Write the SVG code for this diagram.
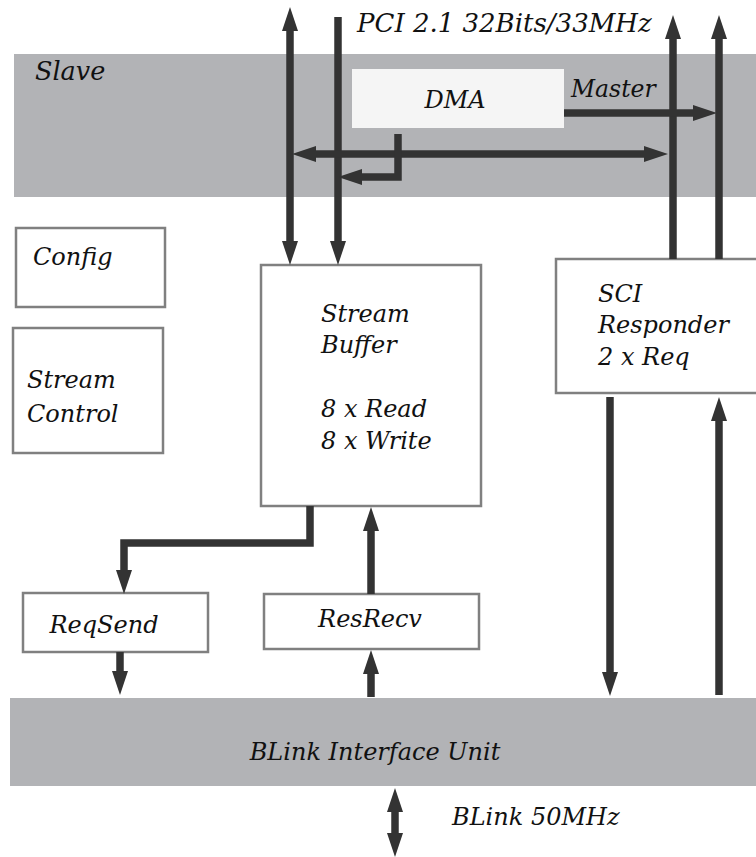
<svg xmlns="http://www.w3.org/2000/svg" width="756" height="857" viewBox="0 0 756 857">
<style>
.band{fill:#b2b3b6}
.box{fill:#ffffff;stroke:#808080;stroke-width:2.5}
.t{font-family:"DejaVu Serif","Liberation Serif",serif;font-style:italic;font-size:24px;fill:#111}
.c{fill:none;stroke:#333;stroke-width:7.5}
</style>
<defs>
<marker id="ah" markerUnits="userSpaceOnUse" markerWidth="24" markerHeight="16" refX="12" refY="8" orient="auto-start-reverse">
<path d="M0,0 L24,8 L0,16 z" fill="#333"/>
</marker>
</defs>
<rect width="756" height="857" fill="#fff"/>
<g id="pci-band">
<rect class="band" x="14" y="54" width="742" height="143"/>
<text class="t" x="35" y="80" style="font-size:25.5px">Slave</text>
<text class="t" x="571" y="97" style="font-size:23.5px">Master</text>
</g>
<g id="dma">
<rect x="352" y="69" width="212" height="59" fill="#f5f5f5"/>
<text class="t" x="455" y="108" text-anchor="middle">DMA</text>
</g>
<g id="config">
<rect class="box" x="16" y="228" width="149" height="79"/>
<text class="t" x="33" y="265">Config</text>
</g>
<g id="stream-control">
<rect class="box" x="13" y="328" width="150" height="125"/>
<text class="t" x="27" y="388">Stream</text>
<text class="t" x="27" y="422">Control</text>
</g>
<g id="stream-buffer">
<rect class="box" x="261" y="265" width="220" height="241"/>
<text class="t" x="321" y="322">Stream</text>
<text class="t" x="321" y="353">Buffer</text>
<text class="t" x="321" y="417">8 x Read</text>
<text class="t" x="321" y="449">8 x Write</text>
</g>
<g id="sci-responder">
<rect class="box" x="556" y="259" width="210" height="134"/>
<text class="t" x="598" y="302">SCI</text>
<text class="t" x="598" y="333">Responder</text>
<text class="t" x="598" y="365">2 x Req</text>
</g>
<g id="reqsend">
<rect class="box" x="23" y="593" width="185" height="59"/>
<text class="t" x="104" y="633" text-anchor="middle">ReqSend</text>
</g>
<g id="resrecv">
<rect class="box" x="264" y="594" width="215" height="55"/>
<text class="t" x="370" y="627" text-anchor="middle">ResRecv</text>
</g>
<g id="blink-unit">
<rect class="band" x="10" y="698" width="746" height="88"/>
<text class="t" x="375" y="760" text-anchor="middle">BLink Interface Unit</text>
</g>
<g id="labels">
<text class="t" x="357" y="32" style="font-size:26px">PCI 2.1 32Bits/33MHz</text>
<text class="t" x="452" y="825">BLink 50MHz</text>
</g>
<g id="connectors">
<path class="c" d="M290,19 V253" marker-start="url(#ah)" marker-end="url(#ah)"/>
<path class="c" d="M338,17 V253" marker-end="url(#ah)"/>
<path class="c" d="M673,259 V27" marker-end="url(#ah)"/>
<path class="c" d="M719,259 V27" marker-end="url(#ah)"/>
<path class="c" d="M564,113 H705" marker-end="url(#ah)"/>
<path class="c" d="M304,154 H656" marker-start="url(#ah)" marker-end="url(#ah)"/>
<path class="c" d="M398,134 V177 H350" marker-end="url(#ah)"/>
<path class="c" d="M310,506 V543 H124 V582" marker-end="url(#ah)"/>
<path class="c" d="M120,652 V683" marker-end="url(#ah)"/>
<path class="c" d="M371,594 V519" marker-end="url(#ah)"/>
<path class="c" d="M371,697 V662" marker-end="url(#ah)"/>
<path class="c" d="M610,397 V684" marker-end="url(#ah)"/>
<path class="c" d="M719,695 V409" marker-end="url(#ah)"/>
<path class="c" d="M395,800 V845" marker-start="url(#ah)" marker-end="url(#ah)"/>
</g>
</svg>
